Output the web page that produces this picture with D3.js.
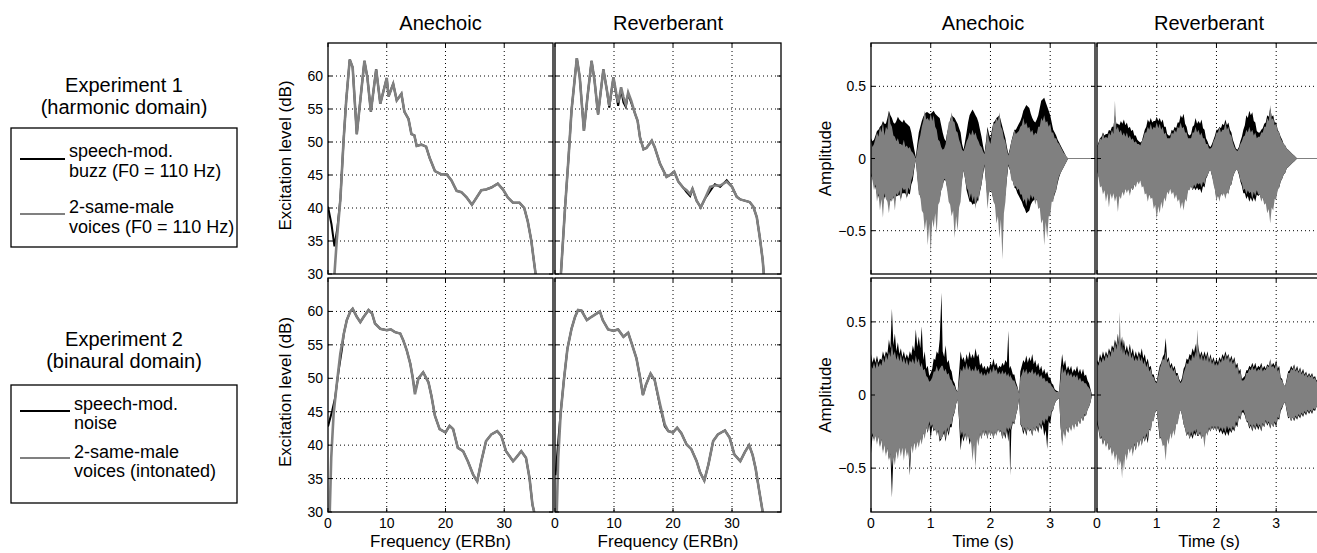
<!DOCTYPE html>
<html>
<head>
<meta charset="utf-8">
<script src="https://cdn.jsdelivr.net/npm/d3@7"></script>
<style>
  body { margin: 0; background: #fff; }
  svg { font-family: "Liberation Sans", Arial, sans-serif; }
</style>
</head>
<body>
<div id="chart"></div>
<script>
// ---- excitation patterns, [ERBn, dB] ----
let excAnechoic1Gray = [[1.1,30],[1.5,35.2],[2.1,41.2],[2.65,50.2],[3.1,56.3],[3.7,62.5],[4.2,61.3],[4.9,51.2],[5.5,56.3],[6.2,62.3],[6.7,59.8],[7.3,54.6],[8.2,61],[8.9,55.8],[10,59.7],[10.3,56.9],[11.1,58.8],[11.7,56.3],[12.5,57.3],[13,54.6],[13.7,53.5],[14.2,51.2],[14.7,51],[15.1,49.4],[15.9,49.6],[16.7,49.3],[17.3,47.6],[18.2,45.6],[19.3,45.1],[20.2,45.1],[21,44.2],[21.9,42.6],[22.7,42.4],[23.6,41.6],[24.5,40.5],[25.3,41.6],[26.1,42.7],[26.9,42.8],[27.8,43.1],[28.9,43.7],[29.8,42.8],[30.6,41.6],[31.5,40.8],[32.6,40.8],[33.4,40],[34,38],[34.6,35.1],[35.1,31.6],[35.4,29.6]];
let excAnechoic1Black = [[0,40.2],[0.6,37.5],[1.1,34.2],[1.6,37],[2.1,41.3],[2.65,50.2],[3.1,56.3],[3.7,62.5],[4.2,61.3],[4.9,51.2],[5.5,56.3],[6.2,62.3],[6.7,59.8],[7.3,54.6],[8.2,61],[8.9,55.8],[10,59.7],[10.3,56.9],[11.1,58.8],[11.7,56.3],[12.5,57.3],[13,54.6],[13.7,53.5],[14.2,51.2],[14.7,51],[15.1,49.4],[15.9,49.6],[16.7,49.3],[17.3,47.6],[18.2,45.6],[19.3,45.1],[20.2,45.1],[21,44.2],[21.9,42.6],[22.7,42.4],[23.6,41.6],[24.5,40.5],[25.3,41.6],[26.1,42.7],[26.9,42.8],[27.8,43.1],[28.9,43.7],[29.8,42.8],[30.6,41.6],[31.5,40.8],[32.6,40.8],[33.4,40],[34,38],[34.6,35.1],[35.1,31.6],[35.4,29.6]];
let excReverb1Gray = [[1.0,30],[1.7,40],[2.3,47.7],[2.8,54.8],[3.7,62.7],[4.2,59.8],[4.9,51.7],[5.5,56.8],[6.2,62.3],[6.7,59.3],[7.3,54.2],[8.2,61],[8.8,57.8],[9.2,55.5],[9.9,59.8],[10.4,57.3],[10.7,56],[11.2,58.3],[11.6,56.8],[12,55.7],[12.4,57.5],[12.9,56.3],[13.6,54.2],[14,53.2],[14.4,50.7],[15,48.9],[15.5,49.1],[16.4,50.2],[16.9,49.2],[17.8,46.7],[18.9,44.7],[19.5,45],[20.2,45.5],[20.9,44],[21.8,43],[22.3,42.7],[22.9,42.1],[23.3,42.9],[24,41.1],[24.7,40.1],[25.4,41.4],[26.3,43.2],[27.1,43.4],[28,43.4],[29.1,44],[30,43.2],[30.8,41.7],[31.4,41.3],[33,40.9],[33.6,40.2],[34.2,38.6],[34.7,35.6],[35.2,32.1],[35.4,29.8]];
let excReverb1Black = [[1.0,30],[1.7,40],[2.3,47.7],[2.8,54.8],[3.7,62.7],[4.2,59.8],[4.9,51.7],[5.5,56.8],[6.2,62.3],[6.7,59.3],[7.3,54.2],[8.2,61],[8.8,57.8],[9.2,55.2],[9.9,59.8],[10.4,57],[10.7,55.5],[11.2,58],[11.6,56],[12,55.3],[12.4,57.3],[12.9,56],[13.6,54.2],[14,53.2],[14.4,50.7],[15,48.9],[15.5,49.1],[16.4,50.2],[16.9,49.2],[17.8,46.7],[18.9,44.7],[19.5,45],[20.2,45.5],[20.9,44],[21.8,43],[22.3,42.4],[22.9,41.8],[23.3,42.9],[24,41.1],[24.7,40.1],[25.4,41.4],[26.3,42.6],[27.1,43.6],[28,43.2],[29.1,44.2],[30,43.2],[30.8,41.7],[31.4,41.3],[33,40.9],[33.6,40.2],[34.2,38.6],[34.7,35.6],[35.2,32.1],[35.4,29.8]];
let excAnechoic2Gray = [[0.3,30],[0.55,38.1],[0.95,44.6],[1.5,49.2],[2.1,53.7],[2.7,56.7],[3.2,58.7],[3.8,60],[4.2,60.4],[4.9,59.2],[5.5,58.4],[6,59.1],[6.9,60.2],[7.5,59.7],[8,58.2],[8.9,57.4],[10,57.2],[10.7,57.3],[11.4,56.9],[12.3,56.7],[12.8,55.7],[13.4,54.2],[14,52.2],[14.4,50.2],[14.8,47.6],[15.4,50],[16.2,50.9],[17.1,49.4],[17.6,47.4],[18.2,44.4],[19,42.4],[20,41.9],[20.7,42.9],[21.3,42.4],[22.1,39.6],[23,39.1],[23.8,37.6],[24.7,35.6],[25.4,34.6],[26.1,37.6],[26.9,40.6],[27.8,41.6],[28.8,42.1],[29.5,41.4],[30.3,39.1],[31.5,37.6],[32,38.1],[32.9,39.1],[33.7,38.1],[34.3,35.1],[34.8,31.1],[35.1,30]];
let excAnechoic2Black = [[0,42.8],[0.7,45.1],[1.2,47],[1.8,51.1],[2.4,54.5],[2.7,56.7],[3.2,58.7],[3.8,60],[4.2,60.4],[4.9,59.2],[5.5,58.4],[6,59.1],[6.9,60.2],[7.5,59.7],[8,58.2],[8.9,57.4],[10,57.2],[10.7,57.3],[11.4,56.9],[12.3,56.7],[12.8,55.7],[13.4,54.2],[14,52.2],[14.4,50.2],[14.8,47.9],[15.4,50],[16.2,50.9],[17.1,49.4],[17.6,47.4],[18.2,44.4],[19,42.4],[20,41.9],[20.7,42.9],[21.3,42.4],[22.1,39.6],[23,39.1],[23.8,37.6],[24.7,35.6],[25.4,34.6],[26.1,37.6],[26.9,40.6],[27.8,41.6],[28.8,42.1],[29.5,41.4],[30.3,39.1],[31.5,37.6],[32,38.1],[32.9,39.1],[33.7,38.1],[34.3,35.1],[34.8,31.1],[35.1,30]];
let excReverb2Gray = [[0.3,30],[0.55,38.1],[0.95,44.6],[1.5,49.7],[2.1,54.4],[2.8,57.4],[3.4,59.2],[3.9,60.2],[4.5,60.1],[5.4,58.7],[6.2,59.2],[7.1,59.7],[7.6,60],[8.1,58.7],[9,57.3],[9.9,57.1],[10.7,57.3],[11.6,56.2],[12.4,56.8],[13,55.2],[13.8,53],[14.4,50.2],[14.9,47.5],[15.4,49],[16.2,50.7],[16.9,49.7],[17.8,46.1],[18.6,43.1],[19.2,42.1],[20,41.9],[20.7,42.6],[21.4,41.8],[22.3,40.1],[23.1,39.4],[24,37.6],[24.6,35.9],[25.3,34.7],[26,37.1],[26.8,40.6],[27.6,41.6],[28.8,42.2],[29.6,41.1],[30.4,38.6],[31.4,37.6],[32.2,39],[32.9,40],[33.5,38.5],[34,36.5],[34.6,33.2],[35.2,30]];
let excReverb2Black = [[0.1,35.5],[0.5,40],[0.95,44.8],[1.5,49.7],[2.1,54.4],[2.8,57.4],[3.4,59.2],[3.9,60.2],[4.5,60.1],[5.4,58.7],[6.2,59.2],[7.1,59.7],[7.6,60],[8.1,58.7],[9,57.3],[9.9,57.1],[10.7,57.3],[11.6,56.2],[12.4,56.8],[13,55.2],[13.8,53],[14.4,50.2],[14.9,47.5],[15.4,49],[16.2,50.7],[16.9,49.7],[17.8,45.8],[18.6,42.8],[19.2,42.1],[20,41.9],[20.7,42.6],[21.4,41.8],[22.3,40.1],[23.1,39.4],[24,37.6],[24.6,35.9],[25.3,34.7],[26,37.1],[26.8,40.6],[27.6,41.6],[28.8,42.2],[29.6,41.1],[30.4,38.6],[31.4,37.6],[32.2,39],[32.9,40],[33.5,38.5],[34,36.5],[34.6,33.2],[35.2,30]];

// ---- waveform envelopes, [time s, gray hi, gray lo, black hi, black lo] ----
// peaks every 0.05 s, and the troughs between them
let waveAnechoic1 = [[0,.12,-.10,.14,-.12],[.05,.10,-.22,.13,-.18],[.10,.18,-.30,.19,-.25],[.15,.22,-.36,.22,-.30],[.20,.25,-.41,.26,-.32],[.25,.22,-.28,.24,-.26],[.30,.33,-.38,.33,-.33],[.35,.22,-.30,.28,-.28],[.40,.15,-.36,.24,-.30],[.45,.14,-.26,.29,-.26],[.50,.10,-.30,.26,-.28],[.55,.13,-.22,.27,-.24],[.60,.09,-.28,.24,-.27],[.65,.08,-.22,.22,-.25],[.70,.04,-.12,.12,-.15],[.75,0,-.01,.01,-.01],[.80,.12,-.25,.18,-.22],[.85,.22,-.36,.26,-.30],[.90,.33,-.50,.31,-.35],[.95,.28,-.60,.32,-.38],[1.00,.31,-.66,.31,-.40],[1.05,.30,-.48,.33,-.35],[1.10,.20,-.52,.30,-.32],[1.15,.12,-.30,.28,-.28],[1.20,.06,-.20,.18,-.18],[1.25,.10,-.15,.12,-.15],[1.30,.25,-.30,.22,-.25],[1.35,.32,-.40,.30,-.32],[1.40,.25,-.55,.28,-.35],[1.45,.18,-.50,.24,-.30],[1.50,.10,-.30,.18,-.22],[1.55,.05,-.08,.06,-.08],[1.60,.12,-.20,.18,-.22],[1.65,.18,-.28,.30,-.30],[1.70,.20,-.30,.34,-.32],[1.75,.18,-.35,.30,-.32],[1.80,.12,-.30,.25,-.28],[1.85,.08,-.18,.15,-.18],[1.90,.03,-.04,.04,-.05],[1.95,.20,-.35,.22,-.28],[2.00,.10,-.22,.14,-.20],[2.05,.25,-.30,.25,-.28],[2.10,.28,-.45,.28,-.35],[2.15,.32,-.55,.30,-.38],[2.20,.20,-.70,.22,-.35],[2.25,.12,-.30,.14,-.25],[2.30,.02,-.04,.03,-.05],[2.35,.12,-.15,.12,-.12],[2.40,.20,-.20,.20,-.20],[2.45,.18,-.22,.22,-.24],[2.50,.22,-.25,.26,-.28],[2.55,.28,-.30,.33,-.33],[2.60,.25,-.33,.37,-.38],[2.65,.22,-.30,.35,-.36],[2.70,.20,-.28,.28,-.30],[2.75,.18,-.32,.25,-.28],[2.80,.22,-.35,.30,-.30],[2.85,.28,-.45,.40,-.32],[2.90,.30,-.60,.42,-.35],[2.95,.26,-.55,.36,-.32],[3.00,.24,-.40,.30,-.30],[3.05,.18,-.30,.20,-.28],[3.10,.14,-.22,.16,-.22],[3.15,.10,-.12,.11,-.13],[3.20,.06,-.08,.07,-.08],[3.25,.03,-.04,.03,-.04],[3.30,0,0,0,0],[3.75,0,0,0,0]];
let waveAnechoic1Mid = [[.025,.08,-.15,.12,-.14],[.075,.14,-.18,.16,-.20],[.125,.15,-.24,.20,-.26],[.175,.18,-.28,.23,-.27],[.225,.16,-.24,.24,-.27],[.275,.20,-.30,.28,-.28],[.325,.24,-.28,.30,-.29],[.375,.16,-.26,.25,-.27],[.425,.12,-.24,.26,-.26],[.475,.10,-.22,.27,-.25],[.525,.09,-.20,.25,-.24],[.575,.08,-.21,.25,-.24],[.625,.07,-.20,.23,-.24],[.675,.05,-.15,.18,-.18],[.725,.02,-.06,.06,-.07],[.775,.06,-.14,.10,-.12],[.825,.16,-.26,.22,-.26],[.875,.26,-.38,.29,-.32],[.925,.27,-.42,.32,-.35],[.975,.26,-.45,.31,-.37],[1.025,.26,-.42,.32,-.36],[1.075,.22,-.38,.31,-.32],[1.125,.13,-.32,.29,-.29],[1.175,.08,-.22,.23,-.22],[1.225,.07,-.14,.14,-.15],[1.275,.18,-.22,.18,-.20],[1.325,.26,-.32,.27,-.28],[1.375,.26,-.36,.29,-.32],[1.425,.19,-.40,.26,-.32],[1.475,.13,-.34,.21,-.26],[1.525,.06,-.16,.10,-.14],[1.575,.08,-.14,.12,-.14],[1.625,.14,-.22,.25,-.26],[1.675,.16,-.24,.32,-.30],[1.725,.16,-.26,.32,-.31],[1.775,.14,-.26,.28,-.30],[1.825,.09,-.22,.20,-.23],[1.875,.05,-.10,.09,-.11],[1.925,.10,-.18,.12,-.16],[1.975,.13,-.24,.17,-.22],[2.025,.18,-.24,.20,-.24],[2.075,.24,-.32,.26,-.31],[2.125,.26,-.40,.29,-.36],[2.175,.22,-.42,.26,-.36],[2.225,.14,-.38,.18,-.30],[2.275,.06,-.14,.08,-.14],[2.325,.06,-.08,.07,-.08],[2.375,.15,-.16,.16,-.16],[2.425,.17,-.19,.20,-.21],[2.475,.19,-.21,.24,-.26],[2.525,.23,-.25,.29,-.30],[2.575,.23,-.28,.35,-.35],[2.625,.21,-.27,.36,-.37],[2.675,.18,-.25,.31,-.32],[2.725,.16,-.26,.26,-.29],[2.775,.17,-.28,.27,-.29],[2.825,.22,-.34,.35,-.31],[2.875,.26,-.42,.41,-.33],[2.925,.25,-.44,.39,-.33],[2.975,.22,-.40,.33,-.31],[3.025,.18,-.30,.25,-.29],[3.075,.14,-.24,.18,-.25],[3.125,.11,-.16,.13,-.17],[3.175,.08,-.10,.09,-.10],[3.225,.04,-.06,.05,-.06],[3.275,.01,-.02,.01,-.02]];
let waveReverb1 = [[0,.08,-.08,.08,-.08],[.05,.14,-.20,.14,-.16],[.10,.18,-.25,.18,-.22],[.15,.15,-.30,.17,-.25],[.20,.18,-.34,.20,-.26],[.25,.20,-.28,.22,-.24],[.30,.40,-.30,.30,-.26],[.35,.22,-.37,.24,-.28],[.40,.20,-.28,.26,-.25],[.45,.18,-.26,.27,-.24],[.50,.18,-.24,.25,-.22],[.55,.16,-.26,.22,-.24],[.60,.14,-.22,.20,-.22],[.65,.12,-.20,.16,-.18],[.70,.10,-.18,.12,-.16],[.75,.12,-.20,.12,-.18],[.80,.18,-.25,.20,-.22],[.85,.22,-.30,.27,-.26],[.90,.24,-.28,.28,-.26],[.95,.22,-.35,.26,-.30],[1.00,.25,-.42,.29,-.32],[1.05,.24,-.38,.28,-.30],[1.10,.22,-.35,.27,-.28],[1.15,.18,-.30,.22,-.26],[1.20,.14,-.25,.16,-.22],[1.25,.18,-.25,.20,-.22],[1.30,.20,-.28,.22,-.25],[1.35,.22,-.30,.25,-.26],[1.40,.25,-.35,.30,-.30],[1.45,.22,-.36,.31,-.32],[1.50,.18,-.30,.22,-.26],[1.55,.14,-.22,.16,-.20],[1.60,.18,-.22,.22,-.22],[1.65,.22,-.20,.28,-.22],[1.70,.20,-.18,.26,-.22],[1.75,.18,-.20,.27,-.24],[1.80,.14,-.18,.20,-.20],[1.85,.10,-.12,.12,-.12],[1.90,.07,-.08,.08,-.08],[1.95,.12,-.18,.13,-.16],[2.00,.18,-.30,.20,-.28],[2.05,.22,-.30,.22,-.28],[2.10,.20,-.26,.24,-.25],[2.15,.25,-.28,.27,-.26],[2.20,.22,-.25,.25,-.24],[2.25,.16,-.18,.18,-.18],[2.30,.08,-.10,.10,-.10],[2.35,.05,-.08,.06,-.08],[2.40,.10,-.15,.12,-.16],[2.45,.15,-.22,.20,-.24],[2.50,.20,-.25,.30,-.28],[2.55,.22,-.24,.33,-.30],[2.60,.20,-.28,.32,-.30],[2.65,.18,-.26,.25,-.30],[2.70,.15,-.25,.18,-.26],[2.75,.18,-.30,.20,-.28],[2.80,.22,-.32,.24,-.30],[2.85,.28,-.38,.30,-.32],[2.90,.37,-.45,.35,-.35],[2.95,.28,-.36,.30,-.30],[3.00,.24,-.28,.25,-.26],[3.05,.18,-.20,.18,-.20],[3.10,.12,-.14,.13,-.14],[3.15,.09,-.10,.09,-.10],[3.20,.06,-.06,.06,-.06],[3.25,.04,-.04,.04,-.04],[3.30,.02,-.02,.02,-.02],[3.35,0,0,0,0],[3.75,0,0,0,0]];
let waveReverb1Mid = [[.025,.10,-.13,.11,-.12],[.075,.13,-.19,.15,-.18],[.125,.14,-.22,.16,-.21],[.175,.14,-.24,.17,-.22],[.225,.16,-.24,.19,-.22],[.275,.17,-.24,.22,-.23],[.325,.20,-.26,.24,-.24],[.375,.18,-.26,.23,-.24],[.425,.16,-.23,.24,-.22],[.475,.15,-.21,.23,-.21],[.525,.14,-.21,.21,-.21],[.575,.13,-.20,.19,-.20],[.625,.11,-.18,.16,-.18],[.675,.10,-.16,.13,-.15],[.725,.09,-.15,.11,-.14],[.775,.14,-.19,.16,-.18],[.825,.18,-.24,.22,-.23],[.875,.20,-.25,.25,-.25],[.925,.20,-.27,.25,-.26],[.975,.21,-.32,.26,-.29],[1.025,.21,-.33,.26,-.29],[1.075,.20,-.30,.25,-.27],[1.125,.17,-.27,.22,-.25],[1.175,.14,-.23,.17,-.22],[1.225,.14,-.21,.16,-.20],[1.275,.17,-.23,.19,-.22],[1.325,.18,-.25,.21,-.24],[1.375,.21,-.28,.25,-.27],[1.425,.21,-.30,.28,-.29],[1.475,.18,-.28,.24,-.27],[1.525,.14,-.22,.17,-.21],[1.575,.14,-.19,.17,-.19],[1.625,.18,-.18,.23,-.20],[1.675,.18,-.17,.24,-.20],[1.725,.16,-.17,.24,-.21],[1.775,.14,-.16,.21,-.19],[1.825,.10,-.13,.14,-.14],[1.875,.07,-.09,.09,-.09],[1.925,.08,-.12,.10,-.12],[1.975,.14,-.22,.16,-.21],[2.025,.18,-.25,.20,-.25],[2.075,.18,-.24,.21,-.24],[2.125,.20,-.24,.23,-.23],[2.175,.20,-.23,.23,-.23],[2.225,.17,-.19,.20,-.19],[2.275,.11,-.13,.13,-.13],[2.325,.06,-.08,.07,-.08],[2.375,.07,-.10,.08,-.11],[2.425,.12,-.17,.15,-.19],[2.475,.16,-.21,.23,-.24],[2.525,.18,-.22,.28,-.26],[2.575,.18,-.23,.30,-.27],[2.625,.16,-.23,.26,-.27],[2.675,.14,-.22,.19,-.25],[2.725,.15,-.25,.18,-.25],[2.775,.18,-.27,.21,-.27],[2.825,.22,-.31,.25,-.29],[2.875,.26,-.35,.29,-.31],[2.925,.27,-.34,.29,-.30],[2.975,.23,-.28,.25,-.26],[3.025,.19,-.22,.20,-.21],[3.075,.14,-.16,.15,-.16],[3.125,.10,-.11,.10,-.11],[3.175,.07,-.07,.07,-.07],[3.225,.05,-.05,.05,-.05],[3.275,.03,-.03,.03,-.03],[3.325,.01,-.01,.01,-.01]];
let waveAnechoic2 = [[0,.20,-.30,.28,-.40],[.05,.22,-.32,.26,-.30],[.10,.24,-.34,.27,-.32],[.15,.22,-.36,.25,-.35],[.20,.26,-.40,.30,-.38],[.25,.28,-.42,.30,-.40],[.30,.30,-.45,.38,-.44],[.35,.35,-.50,.59,-.70],[.40,.30,-.48,.42,-.44],[.45,.28,-.44,.36,-.40],[.50,.28,-.42,.32,-.38],[.55,.26,-.45,.30,-.40],[.60,.25,-.42,.28,-.38],[.65,.24,-.48,.30,-.55],[.70,.25,-.40,.34,-.36],[.75,.27,-.38,.45,-.36],[.80,.25,-.36,.40,-.34],[.85,.22,-.34,.47,-.32],[.90,.18,-.30,.30,-.28],[.95,.12,-.25,.20,-.26],[1.00,.10,-.22,.15,-.30],[1.05,.16,-.24,.25,-.25],[1.10,.20,-.28,.30,-.26],[1.15,.18,-.30,.38,-.32],[1.18,.20,-.30,.70,-.30],[1.20,.20,-.28,.30,-.28],[1.25,.18,-.30,.34,-.32],[1.30,.15,-.26,.24,-.28],[1.35,.10,-.20,.16,-.22],[1.40,.06,-.12,.08,-.12],[1.45,.02,-.03,.02,-.03],[1.50,.18,-.28,.30,-.38],[1.55,.20,-.30,.26,-.32],[1.60,.22,-.32,.28,-.30],[1.65,.20,-.30,.30,-.34],[1.70,.18,-.45,.28,-.36],[1.75,.20,-.50,.32,-.34],[1.80,.18,-.35,.28,-.32],[1.85,.16,-.30,.22,-.30],[1.90,.15,-.28,.20,-.28],[1.95,.16,-.30,.20,-.30],[2.00,.18,-.28,.22,-.28],[2.05,.20,-.30,.25,-.30],[2.10,.18,-.28,.22,-.27],[2.15,.16,-.26,.20,-.25],[2.20,.17,-.30,.22,-.30],[2.25,.16,-.28,.24,-.30],[2.30,.15,-.25,.44,-.32],[2.33,.14,-.24,.20,-.55],[2.35,.12,-.22,.18,-.24],[2.40,.10,-.20,.14,-.20],[2.45,.05,-.10,.06,-.10],[2.48,.01,-.02,.01,-.02],[2.50,.12,-.20,.16,-.20],[2.55,.18,-.25,.24,-.27],[2.60,.18,-.26,.27,-.28],[2.65,.16,-.25,.26,-.25],[2.70,.18,-.28,.28,-.28],[2.75,.16,-.25,.24,-.25],[2.80,.15,-.24,.22,-.26],[2.85,.14,-.22,.20,-.24],[2.90,.12,-.20,.18,-.28],[2.95,.10,-.18,.16,-.37],[3.00,.08,-.15,.12,-.20],[3.05,.05,-.10,.07,-.10],[3.10,.02,-.04,.03,-.04],[3.15,.02,-.02,.02,-.02],[3.20,.20,-.35,.28,-.32],[3.25,.18,-.30,.24,-.28],[3.30,.16,-.26,.20,-.26],[3.35,.15,-.25,.20,-.24],[3.40,.14,-.24,.18,-.22],[3.45,.14,-.22,.20,-.22],[3.50,.12,-.20,.18,-.20],[3.55,.10,-.18,.18,-.18],[3.60,.08,-.14,.14,-.14],[3.65,.05,-.08,.08,-.08],[3.70,0,0,0,0],[3.75,0,0,0,0]];
let waveAnechoic2Mid = [[.025,.18,-.26,.22,-.28],[.075,.18,-.28,.22,-.27],[.125,.19,-.28,.22,-.28],[.175,.20,-.30,.24,-.30],[.225,.22,-.34,.26,-.33],[.275,.24,-.36,.28,-.36],[.325,.26,-.40,.32,-.40],[.375,.27,-.42,.34,-.42],[.425,.24,-.38,.30,-.38],[.475,.23,-.36,.28,-.34],[.525,.22,-.36,.26,-.34],[.575,.21,-.36,.25,-.34],[.625,.20,-.38,.25,-.36],[.675,.22,-.34,.27,-.34],[.725,.21,-.32,.30,-.32],[.775,.22,-.32,.33,-.30],[.825,.19,-.30,.32,-.28],[.875,.17,-.26,.24,-.26],[.925,.13,-.22,.18,-.22],[.975,.09,-.18,.13,-.20],[1.025,.12,-.20,.18,-.21],[1.075,.16,-.23,.24,-.23],[1.125,.16,-.24,.28,-.25],[1.225,.16,-.24,.26,-.26],[1.275,.14,-.22,.22,-.24],[1.325,.11,-.20,.18,-.22],[1.375,.07,-.14,.10,-.15],[1.425,.03,-.06,.04,-.06],[1.475,.10,-.16,.16,-.18],[1.525,.16,-.25,.24,-.28],[1.575,.17,-.26,.22,-.27],[1.625,.17,-.27,.24,-.26],[1.675,.16,-.32,.25,-.30],[1.725,.16,-.34,.25,-.30],[1.775,.16,-.30,.26,-.28],[1.825,.14,-.26,.20,-.26],[1.875,.13,-.24,.18,-.24],[1.925,.13,-.24,.17,-.25],[1.975,.14,-.24,.18,-.24],[2.025,.15,-.25,.20,-.25],[2.075,.16,-.25,.20,-.25],[2.125,.14,-.23,.18,-.23],[2.175,.14,-.24,.19,-.25],[2.225,.14,-.25,.20,-.26],[2.275,.13,-.22,.22,-.24],[2.315,.12,-.22,.18,-.24],[2.375,.10,-.18,.14,-.19],[2.425,.07,-.14,.09,-.14],[2.525,.14,-.21,.20,-.22],[2.575,.15,-.22,.22,-.23],[2.625,.14,-.22,.22,-.22],[2.675,.15,-.23,.23,-.24],[2.725,.14,-.22,.21,-.22],[2.775,.13,-.21,.19,-.22],[2.825,.12,-.19,.17,-.20],[2.875,.11,-.17,.15,-.20],[2.925,.09,-.16,.14,-.24],[2.975,.08,-.14,.12,-.18],[3.025,.06,-.11,.08,-.12],[3.075,.03,-.06,.04,-.06],[3.175,.12,-.22,.18,-.22],[3.225,.15,-.24,.20,-.24],[3.275,.13,-.22,.17,-.22],[3.325,.13,-.21,.17,-.21],[3.375,.12,-.20,.15,-.19],[3.425,.12,-.19,.16,-.19],[3.475,.10,-.17,.15,-.17],[3.525,.09,-.15,.14,-.15],[3.575,.08,-.13,.13,-.14],[3.625,.06,-.10,.10,-.10],[3.675,.03,-.05,.04,-.05]];
let waveReverb2 = [[0,.22,-.17,.24,-.20],[.05,.25,-.30,.28,-.30],[.10,.26,-.34,.30,-.34],[.15,.28,-.36,.30,-.35],[.20,.30,-.38,.32,-.38],[.25,.32,-.42,.34,-.40],[.30,.36,-.45,.38,-.42],[.35,.40,-.50,.42,-.45],[.38,.57,-.48,.40,-.44],[.42,.35,-.57,.40,-.50],[.45,.33,-.52,.38,-.45],[.50,.30,-.45,.34,-.42],[.55,.32,-.40,.35,-.38],[.60,.28,-.42,.32,-.40],[.65,.26,-.38,.30,-.38],[.70,.28,-.36,.30,-.35],[.75,.26,-.35,.32,-.34],[.80,.24,-.32,.28,-.32],[.85,.22,-.30,.25,-.33],[.90,.18,-.25,.20,-.24],[.95,.12,-.18,.14,-.16],[1.00,.08,-.10,.09,-.10],[1.05,.18,-.28,.20,-.30],[1.10,.25,-.35,.26,-.33],[1.15,.30,-.45,.39,-.38],[1.20,.24,-.34,.26,-.32],[1.25,.20,-.30,.22,-.28],[1.30,.18,-.28,.20,-.26],[1.35,.14,-.20,.15,-.18],[1.40,.08,-.10,.09,-.10],[1.45,.15,-.20,.18,-.20],[1.50,.22,-.28,.25,-.28],[1.55,.25,-.30,.28,-.30],[1.60,.28,-.28,.32,-.30],[1.65,.30,-.26,.35,-.28],[1.68,.45,-.27,.38,-.28],[1.70,.30,-.28,.32,-.28],[1.75,.28,-.30,.30,-.30],[1.80,.27,-.36,.30,-.30],[1.85,.28,-.28,.30,-.27],[1.90,.26,-.25,.28,-.25],[1.95,.24,-.24,.26,-.24],[2.00,.22,-.25,.25,-.25],[2.05,.24,-.24,.26,-.26],[2.10,.26,-.25,.28,-.27],[2.15,.28,-.26,.30,-.28],[2.20,.27,-.24,.28,-.28],[2.25,.25,-.25,.27,-.26],[2.30,.24,-.24,.26,-.25],[2.35,.20,-.20,.22,-.22],[2.40,.16,-.16,.18,-.17],[2.45,.10,-.10,.12,-.12],[2.50,.15,-.18,.17,-.18],[2.55,.18,-.22,.20,-.23],[2.60,.20,-.24,.22,-.25],[2.65,.19,-.23,.22,-.24],[2.70,.18,-.22,.20,-.24],[2.75,.20,-.24,.22,-.25],[2.80,.18,-.22,.20,-.22],[2.85,.20,-.20,.21,-.21],[2.90,.25,-.22,.24,-.23],[2.95,.20,-.22,.22,-.22],[3.00,.22,-.20,.24,-.22],[3.05,.18,-.16,.20,-.17],[3.10,.10,-.08,.11,-.09],[3.15,.06,-.05,.06,-.05],[3.20,.15,-.15,.16,-.16],[3.25,.18,-.18,.20,-.18],[3.30,.20,-.17,.21,-.18],[3.35,.18,-.16,.20,-.17],[3.40,.18,-.15,.19,-.16],[3.45,.16,-.14,.18,-.15],[3.50,.15,-.13,.16,-.14],[3.55,.14,-.12,.15,-.13],[3.60,.14,-.12,.15,-.13],[3.65,.12,-.10,.13,-.11],[3.70,.10,-.08,.11,-.09],[3.75,.08,-.06,.09,-.07]];
let waveReverb2Mid = [[.025,.20,-.22,.22,-.24],[.075,.22,-.28,.25,-.29],[.125,.23,-.30,.26,-.30],[.175,.25,-.32,.27,-.32],[.225,.26,-.35,.29,-.35],[.275,.29,-.38,.32,-.37],[.325,.31,-.40,.34,-.39],[.365,.33,-.42,.36,-.41],[.40,.30,-.45,.35,-.43],[.435,.28,-.44,.33,-.43],[.475,.27,-.40,.30,-.39],[.525,.26,-.36,.29,-.36],[.575,.25,-.35,.28,-.35],[.625,.23,-.33,.26,-.34],[.675,.23,-.31,.26,-.31],[.725,.23,-.30,.27,-.30],[.775,.21,-.28,.25,-.29],[.825,.19,-.26,.22,-.28],[.875,.16,-.23,.19,-.24],[.925,.13,-.18,.14,-.17],[.975,.09,-.12,.10,-.12],[1.025,.13,-.19,.15,-.20],[1.075,.21,-.30,.22,-.29],[1.125,.24,-.34,.28,-.32],[1.175,.22,-.30,.24,-.29],[1.225,.18,-.26,.20,-.25],[1.275,.16,-.24,.18,-.23],[1.325,.13,-.20,.15,-.19],[1.375,.10,-.14,.11,-.13],[1.425,.10,-.14,.12,-.14],[1.475,.18,-.23,.20,-.23],[1.525,.21,-.25,.24,-.26],[1.575,.23,-.25,.27,-.27],[1.625,.25,-.24,.29,-.26],[1.66,.26,-.23,.30,-.25],[1.725,.24,-.25,.27,-.26],[1.775,.23,-.27,.26,-.27],[1.825,.23,-.25,.26,-.25],[1.875,.22,-.22,.24,-.23],[1.925,.21,-.21,.23,-.22],[1.975,.20,-.21,.22,-.22],[2.025,.20,-.21,.22,-.22],[2.075,.22,-.22,.24,-.24],[2.125,.23,-.22,.26,-.25],[2.175,.24,-.21,.26,-.25],[2.225,.22,-.22,.24,-.24],[2.275,.21,-.21,.23,-.23],[2.325,.18,-.18,.20,-.20],[2.375,.14,-.14,.16,-.15],[2.425,.10,-.11,.11,-.12],[2.475,.11,-.13,.13,-.14],[2.525,.15,-.18,.17,-.19],[2.575,.17,-.20,.19,-.21],[2.625,.17,-.20,.19,-.21],[2.675,.16,-.19,.18,-.21],[2.725,.17,-.20,.19,-.21],[2.775,.16,-.19,.18,-.20],[2.825,.17,-.17,.18,-.18],[2.875,.19,-.18,.20,-.19],[2.925,.19,-.19,.20,-.19],[2.975,.18,-.18,.20,-.19],[3.025,.16,-.15,.18,-.16],[3.075,.11,-.10,.12,-.11],[3.125,.07,-.06,.07,-.06],[3.175,.10,-.10,.11,-.11],[3.225,.15,-.15,.17,-.15],[3.275,.17,-.15,.18,-.15],[3.325,.16,-.14,.17,-.15],[3.375,.15,-.13,.16,-.14],[3.425,.14,-.12,.15,-.13],[3.475,.13,-.11,.14,-.12],[3.525,.12,-.10,.13,-.11],[3.575,.12,-.10,.13,-.11],[3.625,.11,-.09,.12,-.10],[3.675,.09,-.08,.10,-.08],[3.725,.08,-.06,.09,-.07]];

// ---- ticks and labels ----
let erbTicks = [0, 10, 20, 30];
let dbTicks = [30, 35, 40, 45, 50, 55, 60];
let timeTicks = [0, 1, 2, 3];
let ampTicks = [-0.5, 0, 0.5];
let conditions = ['Anechoic', 'Reverberant'];
let legendRows = [
    { title: ['Experiment 1', '(harmonic domain)'], black: ['speech-mod.', 'buzz (F0 = 110 Hz)'], gray: ['2-same-male', 'voices (F0 = 110 Hz)'] },
    { title: ['Experiment 2', '(binaural domain)'], black: ['speech-mod.', 'noise'], gray: ['2-same-male', 'voices (intonated)'] }
];

let GRAY = '#808080';

let svg = d3.select('#chart').append('svg')
    .attr('width', 1317)
    .attr('height', 553);

let rows = [{ top: 43, bottom: 274 }, { top: 278, bottom: 512 }];
let excCols = [{ left: 328, right: 553 }, { left: 555, right: 781 }];
let ampCols = [{ left: 871, right: 1095 }, { left: 1097, right: 1321 }];

let clipId = 0;

function panel(col, row, xDomain, yDomain, xTicks, yTicks, showX, showY, yFmt) {
    let x = d3.scaleLinear().domain(xDomain).range([col.left, col.right]);
    let y = d3.scaleLinear().domain(yDomain).range([row.bottom, row.top]);
    let g = svg.append('g');
    let id = 'clip' + (clipId++);
    g.append('clipPath').attr('id', id).append('rect')
        .attr('x', col.left).attr('y', row.top)
        .attr('width', col.right - col.left).attr('height', row.bottom - row.top);

    // dotted grid
    g.append('g').selectAll('line').data(xTicks.filter(d => d > xDomain[0])).join('line')
        .attr('x1', d => x(d)).attr('x2', d => x(d))
        .attr('y1', row.top).attr('y2', row.bottom)
        .attr('stroke', '#000').attr('stroke-width', 1).attr('stroke-dasharray', '1,3');
    g.append('g').selectAll('line').data(yTicks.filter(d => d > yDomain[0])).join('line')
        .attr('x1', col.left).attr('x2', col.right)
        .attr('y1', d => y(d)).attr('y2', d => y(d))
        .attr('stroke', '#000').attr('stroke-width', 1).attr('stroke-dasharray', '1,3');

    let plot = g.append('g').attr('clip-path', 'url(#' + id + ')');

    // inward ticks on all sides
    let ticks = g.append('g').attr('stroke', '#000').attr('stroke-width', 1);
    xTicks.forEach(d => {
        ticks.append('line').attr('x1', x(d)).attr('x2', x(d)).attr('y1', row.bottom).attr('y2', row.bottom - 4);
        ticks.append('line').attr('x1', x(d)).attr('x2', x(d)).attr('y1', row.top).attr('y2', row.top + 4);
    });
    yTicks.forEach(d => {
        ticks.append('line').attr('x1', col.left).attr('x2', col.left + 4).attr('y1', y(d)).attr('y2', y(d));
        ticks.append('line').attr('x1', col.right).attr('x2', col.right - 4).attr('y1', y(d)).attr('y2', y(d));
    });

    if (showX) {
        g.append('g').selectAll('text').data(xTicks).join('text')
            .attr('x', d => x(d)).attr('y', row.bottom + 16)
            .attr('text-anchor', 'middle').attr('font-size', 14)
            .text(d => d);
    }
    if (showY) {
        g.append('g').selectAll('text').data(yTicks).join('text')
            .attr('x', col.left - 5).attr('y', d => y(d) + 5)
            .attr('text-anchor', 'end').attr('font-size', 14)
            .text(yFmt);
    }
    return { x, y, g, plot, frame: () => g.append('rect')
        .attr('x', col.left).attr('y', row.top)
        .attr('width', col.right - col.left).attr('height', row.bottom - row.top)
        .attr('fill', 'none').attr('stroke', '#000').attr('stroke-width', 1.3) };
}

// excitation pattern panels
let excData = [
    [[excAnechoic1Black, excAnechoic1Gray], [excReverb1Black, excReverb1Gray]],
    [[excAnechoic2Black, excAnechoic2Gray], [excReverb2Black, excReverb2Gray]]
];
excData.forEach((rowData, r) => {
    rowData.forEach((pair, c) => {
        let p = panel(excCols[c], rows[r], [0, 38.3], [30, 65], erbTicks, dbTicks, r === 1, c === 0, d => d);
        let line = d3.line().x(d => p.x(d[0])).y(d => p.y(d[1]));
        p.plot.append('path').datum(pair[0]).attr('d', line)
            .attr('fill', 'none').attr('stroke', '#000').attr('stroke-width', 2);
        p.plot.append('path').datum(pair[1]).attr('d', line)
            .attr('fill', 'none').attr('stroke', GRAY).attr('stroke-width', 2.6);
        p.frame();
    });
});

// waveform panels: peaks and troughs merged in time order
let byTime = (a, b) => a[0] - b[0];
let waveData = [
    [waveAnechoic1.concat(waveAnechoic1Mid).sort(byTime), waveReverb1.concat(waveReverb1Mid).sort(byTime)],
    [waveAnechoic2.concat(waveAnechoic2Mid).sort(byTime), waveReverb2.concat(waveReverb2Mid).sort(byTime)]
];
let ampFmt = d => d === 0 ? '0' : d3.format('.1f')(d);
waveData.forEach((rowData, r) => {
    rowData.forEach((wave, c) => {
        let p = panel(ampCols[c], rows[r], [0, 3.75], [-0.8, 0.8], timeTicks, ampTicks, r === 1, c === 0, ampFmt);
        p.plot.append('line')
            .attr('x1', p.x(0)).attr('x2', p.x(3.75))
            .attr('y1', p.y(0)).attr('y2', p.y(0))
            .attr('stroke', GRAY).attr('stroke-width', 1);
        let blackArea = d3.area().x(d => p.x(d[0])).y0(d => p.y(d[4])).y1(d => p.y(d[3]));
        let grayArea = d3.area().x(d => p.x(d[0])).y0(d => p.y(d[2])).y1(d => p.y(d[1]));
        p.plot.append('path').datum(wave).attr('d', blackArea).attr('fill', '#000');
        p.plot.append('path').datum(wave).attr('d', grayArea).attr('fill', GRAY);
        p.frame();
    });
});

// column titles
excCols.concat(ampCols).forEach((col, i) => {
    svg.append('text')
        .attr('x', (col.left + col.right) / 2).attr('y', 30)
        .attr('text-anchor', 'middle').attr('font-size', 20)
        .text(conditions[i % 2]);
});

// axis labels
rows.forEach(row => {
    let cy = (row.top + row.bottom) / 2;
    svg.append('text')
        .attr('transform', 'translate(291,' + (cy - 3) + ') rotate(-90)')
        .attr('text-anchor', 'middle').attr('font-size', 17)
        .text('Excitation level (dB)');
    svg.append('text')
        .attr('transform', 'translate(831,' + cy + ') rotate(-90)')
        .attr('text-anchor', 'middle').attr('font-size', 17)
        .text('Amplitude');
});
[excCols, ampCols].forEach((cols, k) => {
    cols.forEach(col => {
        svg.append('text')
            .attr('x', (col.left + col.right) / 2).attr('y', 547)
            .attr('text-anchor', 'middle').attr('font-size', 17)
            .text(k === 0 ? 'Frequency (ERBn)' : 'Time (s)');
    });
});

// legends
let legendPos = [
    { titleY: 92, boxTop: 128, boxBottom: 247, lineX2: 65, textX: 69, blackY: [157, 177], grayY: [213, 233], blackLine: 159, grayLine: 214 },
    { titleY: 346, boxTop: 385, boxBottom: 503, lineX2: 70, textX: 74, blackY: [410, 429], grayY: [458, 477], blackLine: 411, grayLine: 458 }
];
legendRows.forEach((L, i) => {
    let pos = legendPos[i];
    L.title.forEach((t, j) => {
        svg.append('text').attr('x', 124).attr('y', pos.titleY + j * 22)
            .attr('text-anchor', 'middle').attr('font-size', 20).text(t);
    });
    svg.append('rect').attr('x', 11).attr('y', pos.boxTop)
        .attr('width', 226).attr('height', pos.boxBottom - pos.boxTop)
        .attr('fill', 'none').attr('stroke', '#000').attr('stroke-width', 1.3);
    svg.append('line').attr('x1', 20).attr('x2', pos.lineX2)
        .attr('y1', pos.blackLine).attr('y2', pos.blackLine)
        .attr('stroke', '#000').attr('stroke-width', 2);
    svg.append('line').attr('x1', 20).attr('x2', pos.lineX2)
        .attr('y1', pos.grayLine).attr('y2', pos.grayLine)
        .attr('stroke', GRAY).attr('stroke-width', 2);
    L.black.forEach((t, j) => svg.append('text').attr('x', pos.textX).attr('y', pos.blackY[j])
        .attr('font-size', 18).text(t));
    L.gray.forEach((t, j) => svg.append('text').attr('x', pos.textX).attr('y', pos.grayY[j])
        .attr('font-size', 18).text(t));
});
</script>
</body>
</html>
